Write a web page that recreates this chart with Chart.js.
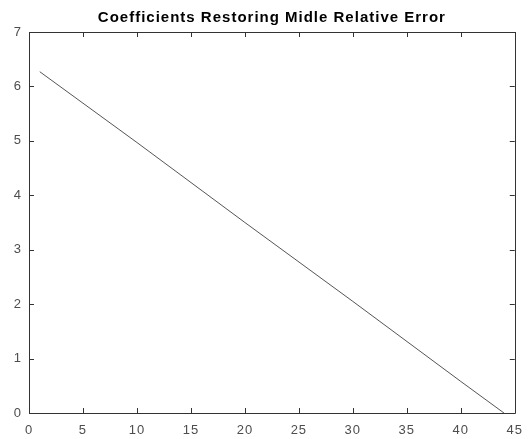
<!DOCTYPE html>
<html lang="en">
<head>
    <meta charset="UTF-8">
    <title>Coefficients Restoring Midle Relative Error</title>
    <script src="https://cdn.jsdelivr.net/npm/chart.js"></script>
    <style>
        html, body { margin: 0; padding: 0; background: #fff; }
        #wrap { width: 532px; height: 439px; }
    </style>
</head>
<body>
    <div id="wrap"><canvas id="chart" width="532" height="439"></canvas></div>
    <script>
        // values
        const xValues = [1, 10, 20, 30, 40, 44];
        const yValues = [6.27, 4.97, 3.5, 2.05, 0.58, 0];
        const xTicks = [0, 5, 10, 15, 20, 25, 30, 35, 40, 45];
        const yTicks = [0, 1, 2, 3, 4, 5, 6, 7];
        const titleText = 'Coefficients Restoring Midle Relative Error';

        const axisColor = '#333333';

        // MATLAB style box with inward ticks on all sides
        const boxTicks = {
            id: 'boxTicks',
            beforeDraw(chart) {
                chart.ctx.letterSpacing = '1px';
            },
            afterDatasetsDraw(chart) {
                const { ctx, chartArea: a, scales } = chart;
                ctx.save();
                ctx.strokeStyle = axisColor;
                ctx.lineWidth = 1;
                ctx.beginPath();
                ctx.rect(Math.round(a.left) + 0.5, Math.round(a.top) + 0.5,
                    Math.round(a.right - a.left), Math.round(a.bottom - a.top));
                xTicks.forEach(v => {
                    const px = Math.round(scales.x.getPixelForValue(v)) + 0.5;
                    ctx.moveTo(px, a.bottom); ctx.lineTo(px, a.bottom - 5);
                    ctx.moveTo(px, a.top); ctx.lineTo(px, a.top + 5);
                });
                yTicks.forEach(v => {
                    const py = Math.round(scales.y.getPixelForValue(v)) + 0.5;
                    ctx.moveTo(a.left, py); ctx.lineTo(a.left + 5, py);
                    ctx.moveTo(a.right, py); ctx.lineTo(a.right - 5, py);
                });
                ctx.stroke();
                ctx.restore();
            }
        };

        new Chart(document.getElementById('chart'), {
            type: 'line',
            data: {
                datasets: [{
                    data: xValues.map((x, i) => ({ x: x, y: yValues[i] })),
                    borderColor: '#555555',
                    borderWidth: 1,
                    pointRadius: 0,
                    fill: false,
                    tension: 0
                }]
            },
            options: {
                responsive: false,
                animation: false,
                layout: { padding: { left: 0, right: 15, top: 0, bottom: 0 } },
                plugins: {
                    legend: { display: false },
                    tooltip: { enabled: false },
                    title: {
                        display: true,
                        fullSize: false,
                        text: titleText,
                        color: '#000',
                        font: { family: 'Liberation Sans', size: 15, weight: 'bold', lineHeight: 1.2 },
                        padding: { top: 9, bottom: 5 }
                    }
                },
                scales: {
                    x: {
                        type: 'linear',
                        min: 0, max: 45,
                        grid: { display: false, drawTicks: false },
                        border: { display: false },
                        afterFit(s) { s.height = 26; },
                        afterBuildTicks(s) { s.ticks = xTicks.map(v => ({ value: v })); },
                        ticks: {
                            color: '#4d4d4d',
                            padding: 10,
                            maxRotation: 0,
                            font: { family: 'Liberation Sans', size: 13 }
                        }
                    },
                    y: {
                        type: 'linear',
                        min: 0, max: 7,
                        grid: { display: false, drawTicks: false },
                        border: { display: false },
                        afterFit(s) { s.width = 29; },
                        afterBuildTicks(s) { s.ticks = yTicks.map(v => ({ value: v })); },
                        ticks: {
                            color: '#4d4d4d',
                            padding: 7,
                            font: { family: 'Liberation Sans', size: 13 }
                        }
                    }
                }
            },
            plugins: [boxTicks]
        });
    </script>
</body>
</html>
